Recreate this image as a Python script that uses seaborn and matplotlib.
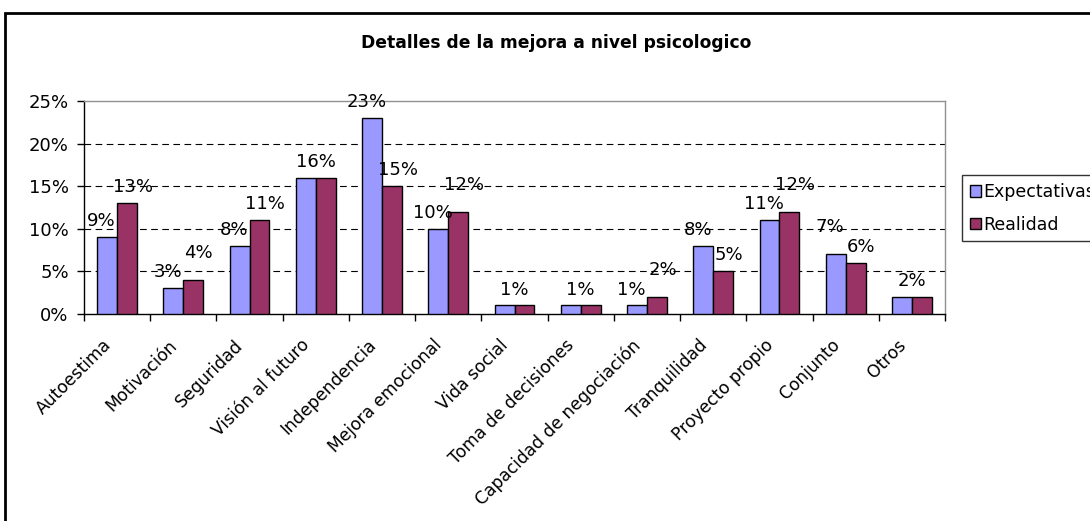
import matplotlib
matplotlib.use("Agg")
import matplotlib.pyplot as plt
from matplotlib.patches import Rectangle
import seaborn as sns
import pandas as pd

categories = ["Autoestima", "Motivación", "Seguridad", "Visión al futuro", "Independencia",
              "Mejora emocional", "Vida social", "Toma de decisiones",
              "Capacidad de negociación", "Tranquilidad", "Proyecto propio", "Conjunto", "Otros"]
expectativas = [9, 3, 8, 16, 23, 10, 1, 1, 1, 8, 11, 7, 2]
realidad = [13, 4, 11, 16, 15, 12, 1, 1, 2, 5, 12, 6, 2]
series_names = ["Expectativas", "Realidad"]
y_ticks = [0, 5, 10, 15, 20, 25]
title = "Detalles de la mejora a nivel psicologico"

df = pd.DataFrame({
    "cat": categories * 2,
    "serie": [series_names[0]] * len(categories) + [series_names[1]] * len(categories),
    "val": expectativas + realidad,
})

sns.set_theme(style="white")
plt.rcParams["font.family"] = ["DejaVu Sans"]
plt.rcParams["text.color"] = "black"
plt.rcParams["xtick.color"] = "black"
plt.rcParams["ytick.color"] = "black"

W, H = 1090, 521
fig = plt.figure(figsize=(W / 100, H / 100), dpi=100)
ax = fig.add_axes([84 / W, 1 - 314 / H, (945 - 84) / W, (314 - 101) / H])

palette = {"Expectativas": "#9999FF", "Realidad": "#993366"}
sns.barplot(data=df, x="cat", y="val", hue="serie", order=categories,
            hue_order=series_names, palette=palette, width=0.6, saturation=1,
            edgecolor="black", linewidth=1.0, ax=ax, zorder=3, errorbar=None)

ax.set_ylim(0, 25)
ax.set_xlim(-0.5, len(categories) - 0.5)
ax.set_yticks(y_ticks)
ax.set_yticklabels([f"{t}%" for t in y_ticks], fontsize=13)
for t in y_ticks[1:-1]:
    ax.axhline(t, color="black", lw=0.8, ls=(0, (6, 4)), zorder=1)

# category labels, rotated 45 degrees
ax.set_xticks(range(len(categories)))
ax.set_xticklabels([])
for i, cat in enumerate(categories):
    ax.annotate(cat, xy=(i, 0), xycoords=("data", "axes fraction"),
                xytext=(-11, -16), textcoords="offset points",
                rotation=45, ha="right", va="top", rotation_mode="anchor",
                fontsize=12.3)
ax.tick_params(axis="x", which="major", length=0)
ax.set_xticks([i - 0.5 for i in range(len(categories) + 1)], minor=True)
ax.tick_params(axis="x", which="minor", length=5, width=1, color="black", direction="out", bottom=True)
ax.tick_params(axis="y", length=5, width=1, color="black", direction="out", left=True, pad=6)
ax.set_xlabel("")
ax.set_ylabel("")

for side in ["left", "bottom"]:
    ax.spines[side].set_color("black")
    ax.spines[side].set_linewidth(1)
for side in ["top", "right"]:
    ax.spines[side].set_visible(True)
    ax.spines[side].set_color("#909090")
    ax.spines[side].set_linewidth(1)

# Data labels (one label centred over the pair when both values coincide;
# the taller label is lifted when the two values are close)
c_exp, c_real = ax.containers[0], ax.containers[1]
for pe, pr in zip(c_exp, c_real):
    he, hr = pe.get_height(), pr.get_height()
    xe = pe.get_x() + pe.get_width() / 2
    xr = pr.get_x() + pr.get_width() / 2
    kw = dict(textcoords="offset points", ha="center", va="bottom", fontsize=13, zorder=5)
    if he == hr:
        ax.annotate(f"{he:.0f}%", ((xe + xr) / 2, he), xytext=(0, 5), **kw)
    else:
        close = abs(he - hr) <= 2
        lift_e = 8 if (close and he > hr) else 0
        lift_r = 8 if (close and hr > he) else 0
        ax.annotate(f"{he:.0f}%", (xe, he), xytext=(-4, 5 + lift_e), **kw)
        ax.annotate(f"{hr:.0f}%", (xr, hr), xytext=(4, 5 + lift_r), **kw)

handles, labels = ax.get_legend_handles_labels()
ax.get_legend().remove()
leg = fig.legend(handles, labels, loc="upper left",
                 bbox_to_anchor=(962 / W, 1 - 175 / H), fontsize=12.5,
                 frameon=True, fancybox=False, edgecolor="black",
                 handlelength=0.65, handleheight=0.65, handletextpad=0.15,
                 borderpad=0.45, labelspacing=0.85, borderaxespad=0)
leg.get_frame().set_linewidth(1)

fig.text(0.51, 1 - 43 / H, title, ha="center", va="center", fontsize=12.3, fontweight="bold")

fig.add_artist(Rectangle((5 / W, -0.05), 1.2, (H - 13) / H + 0.05,
                         transform=fig.transFigure, fill=False, lw=2,
                         ec="black", clip_on=False))

fig.savefig("out.png", dpi=100)
